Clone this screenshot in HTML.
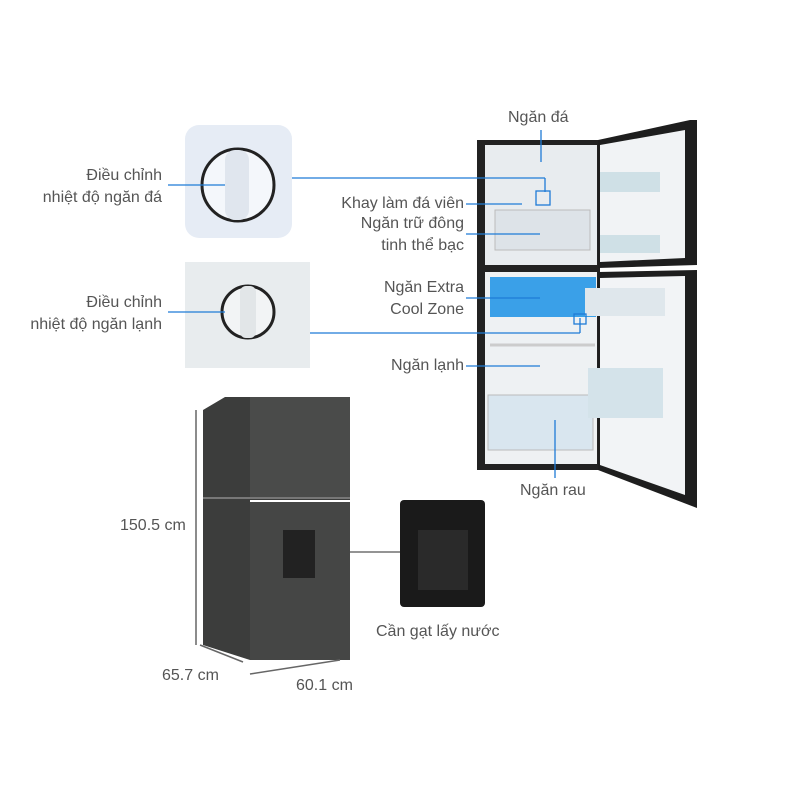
<!DOCTYPE html>
<html><head><style>
body{margin:0;width:800px;height:800px;background:#fff;position:relative;overflow:hidden;font-family:"Liberation Sans","Noto Sans CJK SC",sans-serif;color:#555}
.t{position:absolute;font-size:16px;line-height:22px;color:#555}
.r{text-align:right}
.a{position:absolute}
</style></head><body>
<svg class="a" style="left:0;top:0" width="800" height="800">
<!-- dial 1 -->
<rect x="185" y="125" width="107" height="113" rx="14" fill="#e6ecf5"/>
<circle cx="238" cy="185" r="36" fill="#f4f7fb" stroke="#222" stroke-width="3"/>
<rect x="225" y="150" width="24" height="70" rx="10" fill="#e0e6ee"/>
<!-- dial 2 -->
<rect x="185" y="262" width="125" height="106" fill="#e8ecee"/>
<circle cx="248" cy="312" r="26" fill="#f2f4f5" stroke="#222" stroke-width="3"/>
<rect x="240" y="286" width="16" height="52" rx="6" fill="#e2e6e8"/>
<!-- open fridge body -->
<rect x="477" y="140" width="123" height="330" fill="#222"/>
<rect x="485" y="145" width="112" height="120" fill="#e8ecef"/>
<rect x="485" y="272" width="112" height="192" fill="#eef1f3"/>
<rect x="490" y="277" width="106" height="40" fill="#3aa0e8"/>
<rect x="495" y="210" width="95" height="40" fill="#dde3e8" stroke="#bbb"/>
<rect x="488" y="395" width="105" height="55" fill="#d9e6ef" stroke="#bbb"/>
<line x1="490" y1="345" x2="595" y2="345" stroke="#ccc" stroke-width="3"/>
<!-- doors -->
<polygon points="598,140 690,120 697,120 697,265 598,268" fill="#1e1e1e"/>
<polygon points="600,145 685,130 685,258 600,262" fill="#f1f3f5"/>
<rect x="600" y="172" width="60" height="20" fill="#cfe0e6"/>
<rect x="600" y="235" width="60" height="18" fill="#cfe0e6"/>
<polygon points="598,272 697,270 697,508 598,470" fill="#1e1e1e"/>
<polygon points="600,278 685,276 685,495 600,465" fill="#f2f4f6"/>
<rect x="585" y="288" width="80" height="28" fill="#dfe7ec"/>
<rect x="588" y="368" width="75" height="50" fill="#d4e3ea"/>
<!-- closed fridge -->
<polygon points="203,410 225,397 350,397 350,500 250,500 250,660 203,645" fill="#3c3d3c"/>
<rect x="250" y="397" width="100" height="100" fill="#4a4b4a"/>
<rect x="250" y="502" width="100" height="158" fill="#454645"/>
<rect x="283" y="530" width="32" height="48" fill="#222"/>
<line x1="203" y1="498" x2="350" y2="498" stroke="#777" stroke-width="2"/>
<!-- dispenser -->
<rect x="400" y="500" width="85" height="107" rx="4" fill="#1a1a1a"/>
<rect x="418" y="530" width="50" height="60" fill="#2a2a2a"/>
<!-- dimension lines -->
<g stroke="#666" stroke-width="1.5">
<line x1="196" y1="410" x2="196" y2="645"/>
<line x1="200" y1="645" x2="243" y2="662"/>
<line x1="250" y1="674" x2="340" y2="660"/>
</g>
<!-- connectors -->
<g stroke="#1e7bd6" stroke-width="1.3" fill="none">
<line x1="168" y1="185" x2="225" y2="185"/>
<line x1="292" y1="178" x2="545" y2="178"/><line x1="545" y1="178" x2="545" y2="192"/>
<rect x="536" y="191" width="14" height="14"/>
<line x1="541" y1="130" x2="541" y2="162"/>
<line x1="466" y1="204" x2="522" y2="204"/>
<line x1="466" y1="234" x2="540" y2="234"/>
<line x1="466" y1="298" x2="540" y2="298"/>
<line x1="310" y1="333" x2="580" y2="333"/><line x1="580" y1="333" x2="580" y2="318"/>
<rect x="574" y="314" width="12" height="10"/>
<line x1="168" y1="312" x2="225" y2="312"/>
<line x1="466" y1="366" x2="540" y2="366"/>
<line x1="555" y1="420" x2="555" y2="478"/>
</g>
<g stroke="#555" stroke-width="1.3"><line x1="350" y1="552" x2="400" y2="552"/></g>
</svg>
<div class="t r" style="right:638px;top:165px">Điều chỉnh<br>nhiệt độ ngăn đá</div>
<div class="t r" style="right:638px;top:292px">Điều chỉnh<br>nhiệt độ ngăn lạnh</div>
<div class="t" style="left:508px;top:107px">Ngăn đá</div>
<div class="t r" style="right:336px;top:193px">Khay làm đá viên</div>
<div class="t r" style="right:336px;top:213px">Ngăn trữ đông<br>tinh thể bạc</div>
<div class="t r" style="right:336px;top:277px">Ngăn Extra<br>Cool Zone</div>
<div class="t r" style="right:336px;top:355px">Ngăn lạnh</div>
<div class="t" style="left:520px;top:480px">Ngăn rau</div>
<div class="t" style="left:120px;top:515px">150.5 cm</div>
<div class="t" style="left:162px;top:665px">65.7 cm</div>
<div class="t" style="left:296px;top:675px">60.1 cm</div>
<div class="t" style="left:376px;top:621px">Cần gạt lấy nước</div>
</body></html>
